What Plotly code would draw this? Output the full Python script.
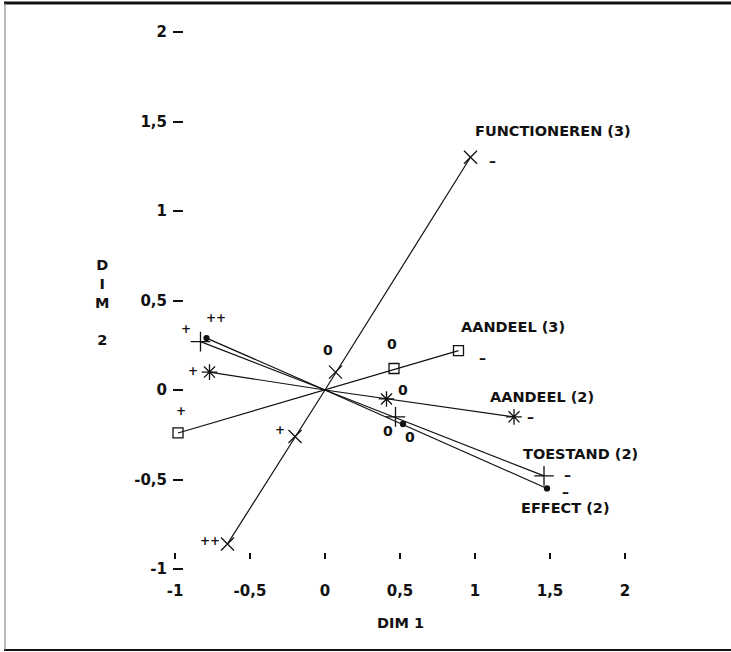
import plotly.graph_objects as go

# ---------------- data ----------------
functioneren_x = [-0.65, -0.20, 0.07, 0.97]
functioneren_y = [-0.86, -0.26, 0.10, 1.30]
functioneren_cat = ["++", "+", "0", "-"]

aandeel3_x = [-0.98, 0.46, 0.89]
aandeel3_y = [-0.24, 0.12, 0.22]
aandeel3_cat = ["+", "0", "-"]

aandeel2_x = [-0.77, 0.41, 1.26]
aandeel2_y = [0.10, -0.05, -0.15]
aandeel2_cat = ["+", "0", "-"]

toestand_x = [-0.83, 0.47, 1.46]
toestand_y = [0.27, -0.15, -0.48]
toestand_cat = ["+", "0", "-"]

effect_x = [-0.79, 0.52, 1.48]
effect_y = [0.29, -0.19, -0.55]
effect_cat = ["++", "0", "-"]

variable_names = ["FUNCTIONEREN (3)", "AANDEEL (3)", "AANDEEL (2)",
                  "TOESTAND (2)", "EFFECT (2)"]

origin = (0.0, 0.0)

x_tickvals = [-1, -0.5, 0, 0.5, 1, 1.5, 2]
x_ticktext = ["-1", "-0,5", "0", "0,5", "1", "1,5", "2"]
y_tickvals = [-1, -0.5, 0, 0.5, 1, 1.5, 2]
y_ticktext = ["-1", "-0,5", "0", "0,5", "1", "1,5", "2"]

# ---------------- styling / layout ----------------
W, H = 731, 652
ML, MR, MT, MB = 140, 31, 15, 52
PX_X, PX_Y = 150.0, 179.0          # pixels per data unit
X0_PX, Y0_PX = 325.0, 390.0         # pixel position of the origin
plot_w = W - ML - MR
plot_h = H - MT - MB
X_RANGE = [(ML - X0_PX) / PX_X, (ML + plot_w - X0_PX) / PX_X]
Y_RANGE = [(Y0_PX - (MT + plot_h)) / PX_Y, (Y0_PX - MT) / PX_Y]

INK = "#111111"
FONT = "DejaVu Sans"
FS = 14.5
FS_TICK = 15


def px_to_paper_x(px):
    return (px - ML) / plot_w


def px_to_paper_y(py):
    return (MT + plot_h - py) / plot_h


symbols = ["x-thin-open", "square-open", "asterisk-open", "cross-thin-open", "circle"]
msizes = [13, 10, 13, 14, 5]

series = [
    (functioneren_x, functioneren_y, functioneren_cat),
    (aandeel3_x, aandeel3_y, aandeel3_cat),
    (aandeel2_x, aandeel2_y, aandeel2_cat),
    (toestand_x, toestand_y, toestand_cat),
    (effect_x, effect_y, effect_cat),
]

# pixel offsets of the category labels relative to their markers (dx, dy-up)
cat_offsets = [
    [(-18, 3), (-15, 7), (-8, 22), (22, -4)],
    [(3, 22), (-2, 25), (24, -7)],
    [(-17, 1), (16, 9), (16, 0)],
    [(-15, 13), (-8, -14), (23, 1)],
    [(9, 20), (7, -13), (18, -4)],
]
# pixel offsets of variable names relative to the last marker
name_offsets = [(82, 26), (54, 24), (28, 20), (36, 22), (18, -20)]

fig = go.Figure()
annotations = []

for i, (xs, ys, cats) in enumerate(series):
    # line from extreme category through the origin to the other extreme
    fig.add_trace(go.Scatter(
        x=[xs[0], origin[0], xs[-1]], y=[ys[0], origin[1], ys[-1]],
        mode="lines", line=dict(color=INK, width=1.2),
        hoverinfo="skip", showlegend=False, cliponaxis=False))
    fig.add_trace(go.Scatter(
        x=xs, y=ys, mode="markers",
        marker=dict(symbol=symbols[i], size=msizes[i], color=INK,
                    line=dict(color=INK, width=1.3)),
        showlegend=False, cliponaxis=False, name=variable_names[i]))
    for j, c in enumerate(cats):
        dx, dy = cat_offsets[i][j]
        small = "+" in c
        annotations.append(dict(
            x=xs[j], y=ys[j], xref="x", yref="y", text=("–" if c == "-" else c),
            showarrow=False, xshift=dx, yshift=dy,
            xanchor="center", yanchor="middle",
            font=dict(family=FONT, size=(12 if small else 14), color=INK, weight="bold")))
    dx, dy = name_offsets[i]
    annotations.append(dict(
        x=xs[-1], y=ys[-1], xref="x", yref="y", text=variable_names[i],
        showarrow=False, xshift=dx, yshift=dy,
        xanchor="center", yanchor="middle",
        font=dict(family=FONT, size=FS, color=INK, weight="bold")))

# axis titles
annotations.append(dict(
    x=0.5, y=px_to_paper_y(623), xref="x", yref="paper", text="DIM 1",
    showarrow=False, xanchor="center", yanchor="middle",
    font=dict(family=FONT, size=FS, color=INK, weight="bold")))
annotations.append(dict(
    x=px_to_paper_x(102), y=0.49, xref="paper", yref="y",
    text="D<br>I<br>M<br><br>2", showarrow=False,
    xanchor="center", yanchor="middle",
    font=dict(family=FONT, size=FS, color=INK, weight="bold")))

tickfont = dict(family=FONT, size=FS_TICK, color=INK, weight="bold")

fig.update_layout(
    width=W, height=H,
    margin=dict(l=ML, r=MR, t=MT, b=MB, pad=0),
    paper_bgcolor="white", plot_bgcolor="white",
    xaxis=dict(range=X_RANGE, anchor="free", position=px_to_paper_y(552),
               showline=False, showgrid=False, zeroline=False,
               tickvals=x_tickvals, ticktext=x_ticktext,
               ticks="outside", ticklen=6, tickwidth=1.5, tickcolor=INK,
               ticklabelstandoff=19, tickfont=tickfont),
    yaxis=dict(range=Y_RANGE, anchor="free", position=px_to_paper_x(183),
               showline=False, showgrid=False, zeroline=False,
               tickvals=y_tickvals, ticktext=y_ticktext,
               ticks="outside", ticklen=10, tickwidth=1.5, tickcolor=INK,
               ticklabelstandoff=3, tickfont=tickfont),
    annotations=annotations,
    shapes=[
        dict(type="line", xref="paper", yref="paper",
             x0=px_to_paper_x(4), x1=px_to_paper_x(731),
             y0=px_to_paper_y(3), y1=px_to_paper_y(3),
             line=dict(color=INK, width=3)),
        dict(type="line", xref="paper", yref="paper",
             x0=px_to_paper_x(4), x1=px_to_paper_x(731),
             y0=px_to_paper_y(650), y1=px_to_paper_y(650),
             line=dict(color=INK, width=2)),
        dict(type="line", xref="paper", yref="paper",
             x0=px_to_paper_x(5), x1=px_to_paper_x(5),
             y0=px_to_paper_y(3), y1=px_to_paper_y(650),
             line=dict(color="#777777", width=1)),
    ],
)

fig.write_html("out.html")
